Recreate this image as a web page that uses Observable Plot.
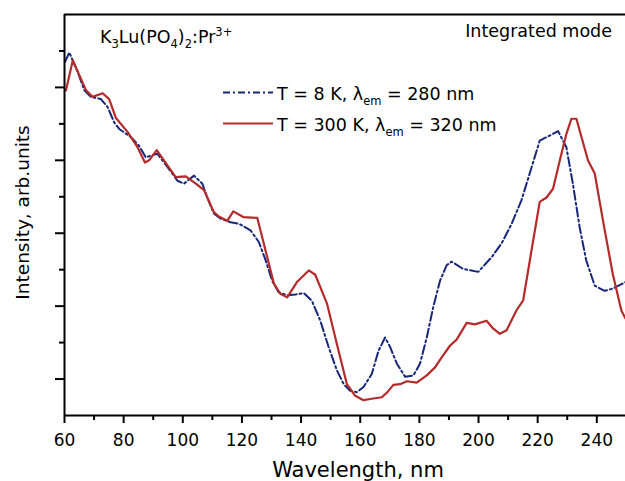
<!DOCTYPE html>
<html>
<head>
<meta charset="utf-8">
<script src="https://cdn.jsdelivr.net/npm/d3@7"></script>
<script src="https://cdn.jsdelivr.net/npm/@observablehq/plot@0.6"></script>
<style>
  html, body { margin: 0; padding: 0; background: #fff; }
  #chart { width: 625px; height: 481px; }
  svg text { white-space: pre; }
</style>
</head>
<body>
<div id="chart"></div>
<script>
// ---- data ----
const wl8 = [60.2, 61.6, 64.5, 66.7, 68.9, 72.3, 74.6, 76.8, 78.5, 82.4, 85.2, 87.5, 89.7, 91.4, 94.8, 98.2, 100.4, 103.8, 106.6, 108.3, 110.5, 112.8, 116.2, 119, 122.9, 125.7, 128, 130.2, 132.4, 135.3, 138.1, 140.9, 143.7, 146.5, 149.3, 152.1, 154.4, 156.6, 158.9, 161.1, 163.9, 166.2, 168.4, 170.1, 172.4, 175.2, 178, 180.2, 182.5, 184.7, 187, 189.2, 190.9, 194.8, 199.9, 204.4, 207.8, 211.2, 214.5, 217.3, 220.7, 224.1, 226.9, 229.7, 231.9, 234.2, 236.4, 239.3, 242.6, 245.4, 249.7];
const int8 = [4.85, 4.98, 4.71, 4.46, 4.37, 4.34, 4.23, 4.02, 3.93, 3.82, 3.70, 3.54, 3.57, 3.59, 3.41, 3.22, 3.18, 3.29, 3.18, 2.99, 2.77, 2.70, 2.65, 2.63, 2.54, 2.38, 2.13, 1.85, 1.69, 1.65, 1.66, 1.68, 1.57, 1.30, 0.94, 0.62, 0.43, 0.34, 0.32, 0.39, 0.57, 0.89, 1.07, 0.94, 0.71, 0.53, 0.55, 0.71, 1.07, 1.49, 1.85, 2.06, 2.11, 2.01, 1.97, 2.17, 2.36, 2.63, 2.95, 3.32, 3.77, 3.84, 3.90, 3.68, 3.18, 2.58, 2.13, 1.78, 1.71, 1.74, 1.83];

const wl300 = [60.5, 62.8, 67.3, 69.5, 72.9, 75.1, 77.4, 81.3, 84.7, 87.2, 88.6, 91.2, 94.8, 97.6, 101, 104.4, 107.2, 110.5, 112.2, 115, 117.1, 120.6, 125.2, 128, 130.8, 133, 135.3, 138.6, 142.6, 144.8, 148.8, 152.1, 155.5, 158.3, 161.1, 163.9, 167.3, 169.2, 171.2, 173.5, 175.8, 179.1, 182.5, 185.3, 187.6, 190.4, 192.6, 196, 198.8, 202.7, 205, 207.2, 209.5, 212.8, 215.1, 217.9, 220.7, 223, 225.2, 227.5, 229.7, 231.4, 233.1, 237, 239.3, 242.1, 245.4, 248.3, 249.7];
const int300 = [4.46, 4.87, 4.46, 4.37, 4.42, 4.34, 4.08, 3.89, 3.68, 3.47, 3.50, 3.64, 3.43, 3.27, 3.28, 3.18, 3.09, 2.79, 2.73, 2.67, 2.80, 2.72, 2.71, 2.26, 1.81, 1.67, 1.62, 1.83, 1.99, 1.93, 1.53, 0.98, 0.43, 0.27, 0.21, 0.23, 0.25, 0.32, 0.42, 0.43, 0.47, 0.45, 0.55, 0.66, 0.80, 0.96, 1.04, 1.27, 1.25, 1.30, 1.19, 1.12, 1.17, 1.44, 1.58, 2.26, 2.93, 2.99, 3.11, 3.50, 3.86, 4.07, 4.07, 3.50, 3.32, 2.67, 1.94, 1.44, 1.33];

const xDomain = [60, 249.7];
const yDomain = [0, 5.5];
const xMajorTicks = [60, 80, 100, 120, 140, 160, 180, 200, 220, 240];
const xMinorTicks = [70, 90, 110, 130, 150, 170, 190, 210, 230];
const yMajorTicks = [0.5, 1.5, 2.5, 3.5, 4.5];
const yMinorTicks = [1, 2, 3, 4, 5];

const seriesNames = ["T = 8 K", "T = 300 K"];
const colors = ["#17267a", "#b52a2a"];

const xLabel = "Wavelength, nm";
const yLabel = "Intensity, arb.units";

const data8 = wl8.map((w, i) => ({wl: w, v: int8[i]}));
const data300 = wl300.map((w, i) => ({wl: w, v: int300[i]}));

const FONT = "DejaVu Sans";

const chart = Plot.plot({
  width: 625,
  height: 481,
  marginLeft: 64,
  marginRight: 0,
  marginTop: 14,
  marginBottom: 66,
  x: {domain: xDomain},
  y: {domain: yDomain},
  style: {fontFamily: FONT, fontSize: "17px", background: "white", color: "black", overflow: "visible"},
  marks: [
    Plot.axisX(xMajorTicks, {tickSize: 8, tickPadding: 10, strokeWidth: 2, fontSize: 17, tickFormat: d => String(d), label: null}),
    Plot.axisX(xMinorTicks, {tickSize: 5, strokeWidth: 2, tickFormat: () => "", label: null}),
    Plot.axisY(yMajorTicks, {tickSize: 9, strokeWidth: 2, tickFormat: () => "", label: null}),
    Plot.axisY(yMinorTicks, {tickSize: 5, strokeWidth: 2, tickFormat: () => "", label: null}),
    Plot.line(data8, {x: "wl", y: "v", stroke: colors[0], strokeWidth: 2, strokeDasharray: "9,3,2,3"}),
    Plot.line(data300, {x: "wl", y: "v", stroke: colors[1], strokeWidth: 2.2}),
    Plot.ruleX([xDomain[0]], {stroke: "black", strokeWidth: 2}),
    Plot.ruleY([yDomain[0]], {stroke: "black", strokeWidth: 2}),
    Plot.ruleY([yDomain[1]], {stroke: "black", strokeWidth: 2}),
    Plot.text([xLabel], {frameAnchor: "bottom", text: d => d, dx: 13, dy: 61, fontSize: 21, lineAnchor: "bottom"}),
    Plot.text([yLabel], {frameAnchor: "left", text: d => d, textAnchor: "middle", dx: -36, dy: -2.5, rotate: -90, fontSize: 18.5, lineAnchor: "bottom"})
  ]
});
document.getElementById("chart").appendChild(chart);

// ---- annotations & legend ----
const svg = d3.select(chart);
const g = svg.append("g").attr("font-family", FONT).attr("fill", "black");

function rich(x, y, parts, anchor) {
  const t = g.append("text").attr("x", x).attr("y", y).attr("font-size", 17.5)
    .attr("text-anchor", anchor || "start");
  let shift = 0;
  for (const [s, kind] of parts) {
    let target = 0, size = 17.5;
    if (kind === "sub") { target = 5; size = 11.5; }
    if (kind === "sup") { target = -7; size = 11.5; }
    t.append("tspan").attr("dy", target - shift).attr("font-size", size).text(s);
    shift = target;
  }
  return t;
}

rich(100, 43, [["K"], ["3", "sub"], ["Lu(PO"], ["4", "sub"], [")"], ["2", "sub"], [":Pr"], ["3+", "sup"]]);
rich(612, 37, [["Integrated mode"]], "end");

const legend = [
  {y: 92.5, name: seriesNames[0], rest: " = 280 nm", color: colors[0], dash: "7,3,2,3"},
  {y: 123.5, name: seriesNames[1], rest: " = 320 nm", color: colors[1], dash: null}
];
for (const item of legend) {
  const ln = g.append("line").attr("x1", 223).attr("x2", 273).attr("y1", item.y).attr("y2", item.y)
    .attr("stroke", item.color).attr("stroke-width", 2);
  if (item.dash) ln.attr("stroke-dasharray", item.dash);
  rich(277, item.y + 7.5, [[item.name + ", λ"], ["em", "sub"], [item.rest]]);
}
</script>
</body>
</html>
